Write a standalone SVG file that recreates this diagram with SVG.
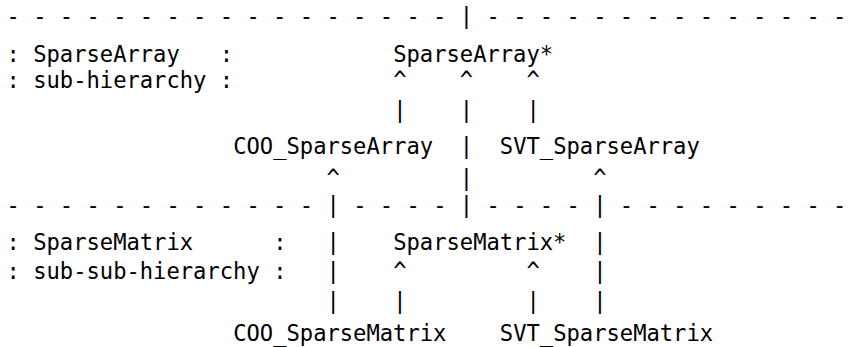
<svg xmlns="http://www.w3.org/2000/svg" width="864" height="347" viewBox="0 0 864 347">
<style>
text{font-family:"DejaVu Sans Mono","Liberation Mono",monospace;font-size:22.15px;fill:#000}
</style>
<rect width="864" height="347" fill="#fff"/>
<g id="separators">
<text x="6.5" y="23.5">- - - - - - - - - - - - - - - - -</text>
<text x="486.5" y="23.5">- - - - - - - - - - - - - -</text>
<text x="6.5" y="212.5">- - - - - - - - - - - -</text>
<text x="353.17" y="212.5">- - - -</text>
<text x="486.5" y="212.5">- - - -</text>
<text x="619.83" y="212.5">- - - - - - - - -</text>
</g>
<g id="legend-sparsearray">
<text x="6.5" y="61.5">:</text><text x="33.17" y="61.5">SparseArray</text><text x="219.83" y="61.5">:</text>
<text x="6.5" y="88">:</text><text x="33.17" y="88">sub-hierarchy</text><text x="219.83" y="88">:</text>
</g>
<g id="legend-sparsematrix">
<text x="6.5" y="250">:</text><text x="33.17" y="250">SparseMatrix</text><text x="273.17" y="250">:</text>
<text x="6.5" y="279">:</text><text x="33.17" y="279">sub-sub-hierarchy</text><text x="273.17" y="279">:</text>
</g>
<g id="node-SparseArray"><text x="393.17" y="61.5">SparseArray*</text></g>
<g id="node-COO_SparseArray"><text x="233.17" y="154">COO_SparseArray</text></g>
<g id="node-SVT_SparseArray"><text x="499.83" y="154">SVT_SparseArray</text></g>
<g id="node-SparseMatrix"><text x="393.17" y="250">SparseMatrix*</text></g>
<g id="node-COO_SparseMatrix"><text x="233.17" y="341">COO_SparseMatrix</text></g>
<g id="node-SVT_SparseMatrix"><text x="499.83" y="341">SVT_SparseMatrix</text></g>
<g id="connectors">
<text x="459.83" y="23.5">|</text>
<text x="393.17" y="88">^</text><text x="459.83" y="88">^</text><text x="526.5" y="88">^</text>
<text x="393.17" y="118">|</text><text x="459.83" y="118">|</text><text x="526.5" y="118">|</text>
<text x="459.83" y="154">|</text>
<text x="326.5" y="186">^</text><text x="459.83" y="186">|</text><text x="593.17" y="186">^</text>
<text x="326.5" y="212.5">|</text><text x="459.83" y="212.5">|</text><text x="593.17" y="212.5">|</text>
<text x="326.5" y="250">|</text><text x="593.17" y="250">|</text>
<text x="326.5" y="279">|</text><text x="393.17" y="279">^</text><text x="526.5" y="279">^</text><text x="593.17" y="279">|</text>
<text x="326.5" y="309">|</text><text x="393.17" y="309">|</text><text x="526.5" y="309">|</text><text x="593.17" y="309">|</text>
</g>
</svg>
